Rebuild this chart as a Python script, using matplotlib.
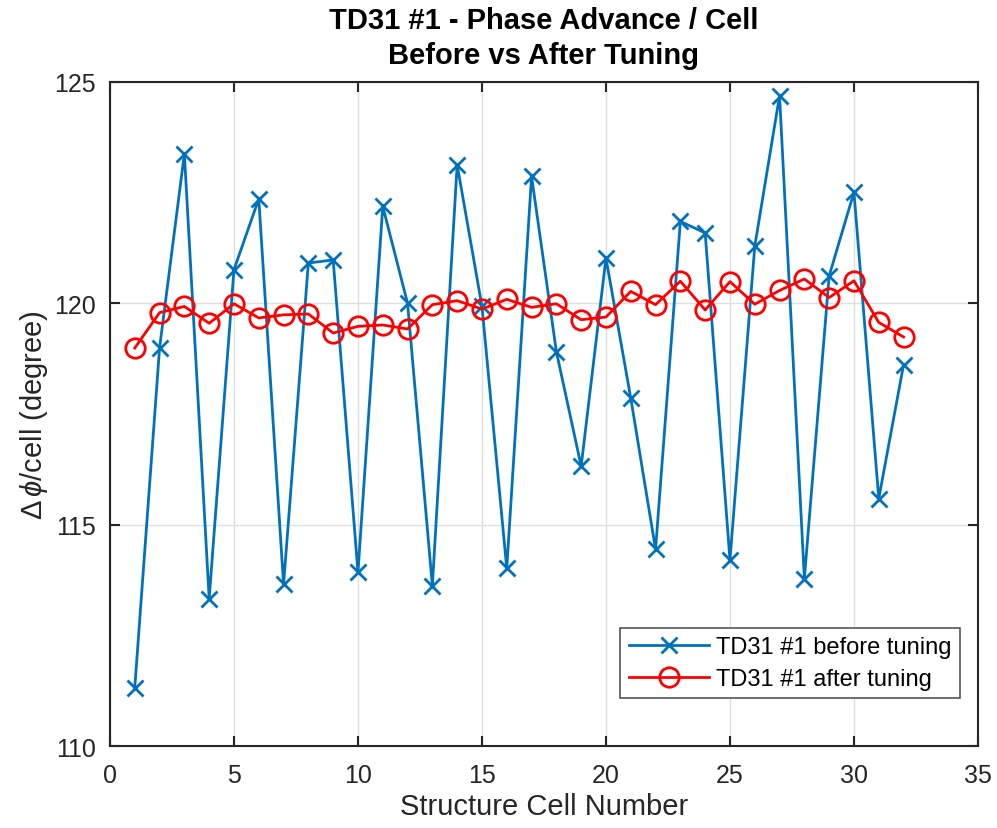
import numpy as np
import matplotlib
matplotlib.use("Agg")
import matplotlib.pyplot as plt

plt.rcParams['font.family'] = ['Liberation Sans', 'DejaVu Sans']
plt.rcParams['mathtext.fontset'] = 'custom'
plt.rcParams['mathtext.rm'] = 'Liberation Sans'
plt.rcParams['mathtext.it'] = 'Liberation Sans:italic'

# cell numbers and phase advance per cell (degree)
cells = np.arange(1, 33)
before = [111.32, 118.99, 123.38, 113.33, 120.76, 122.36, 113.65, 120.91,
          120.98, 113.92, 122.19, 120.00, 113.62, 123.13, 119.93, 114.01,
          122.87, 118.91, 116.32, 121.02, 117.86, 114.44, 121.85, 121.59,
          114.20, 121.29, 124.69, 113.78, 120.62, 122.51, 115.59, 118.61]
after = [118.99, 119.79, 119.93, 119.55, 119.99, 119.67, 119.74, 119.76,
         119.33, 119.48, 119.51, 119.42, 119.97, 120.06, 119.87, 120.09,
         119.91, 119.99, 119.63, 119.69, 120.27, 119.97, 120.50, 119.85,
         120.49, 119.98, 120.29, 120.55, 120.13, 120.51, 119.57, 119.24]

blue = '#0072BD'
axc = '#262626'

fig = plt.figure(figsize=(9.97, 8.29), dpi=100)
ax = fig.add_axes([0.1103, 0.0989, 0.8706, 0.801])

ax.plot(cells, before, '-x', color=blue, lw=2, ms=12, mew=2,
        label='TD31 #1 before tuning')
ax.plot(cells, after, '-o', color='red', lw=2, ms=14, mew=2,
        mfc='none', label='TD31 #1 after tuning')

ax.set_xlim(0, 35)
ax.set_ylim(110, 125)
ax.set_xticks(np.arange(0, 36, 5))
ax.set_yticks([110, 115, 120, 125])
ax.grid(True, color='#dfdfdf', lw=1)
ax.set_axisbelow(True)
ax.tick_params(direction='in', top=True, right=True, length=7, width=1.5,
               colors=axc, labelsize=18)
ax.tick_params(axis='x', pad=12)
ax.tick_params(axis='y', pad=10)
for s in ax.spines.values():
    s.set_color(axc)
    s.set_linewidth(1.5)

ax.set_xlabel('Structure Cell Number', fontsize=21, color=axc, labelpad=4)
ax.set_ylabel(r'$\Delta\,\it{\phi}$/cell (degree)', fontsize=21, color=axc,
              labelpad=3)
ax.set_title('TD31 #1 - Phase Advance / Cell\nBefore vs After Tuning',
             fontsize=21, fontweight='bold', color='black', pad=14,
             linespacing=1.3)

leg = ax.legend(loc='lower right', bbox_to_anchor=(0.979, 0.072),
                borderaxespad=0, fontsize=17, fancybox=False,
                framealpha=1, edgecolor='#555555', handlelength=3.4,
                handletextpad=0.3, borderpad=0.35, labelspacing=0.4)
leg.get_frame().set_linewidth(1.2)

fig.savefig('out.png', dpi=100)
